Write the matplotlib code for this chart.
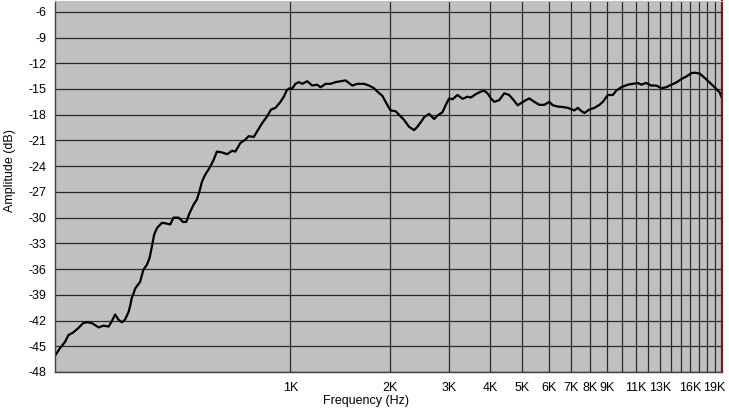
import numpy as np
import matplotlib
matplotlib.use('Agg')
import matplotlib.pyplot as plt

plt.rcParams['font.family'] = ['Liberation Sans', 'DejaVu Sans']

# response curve: frequency (Hz) and amplitude (dB)
freq = [195, 202, 209, 214, 221, 229, 237, 244, 252, 264, 273, 283, 289, 296,
        303, 310, 317, 325, 329, 332, 336, 340, 344, 352, 360, 369, 376, 382,
        388, 396, 410, 424, 434, 444, 460, 474, 485, 496, 510, 522, 531, 541,
        553, 570, 586, 600, 622, 644, 667, 682, 706, 731, 748, 775, 793, 821,
        850, 874, 901, 933, 955, 973, 988, 1012, 1035, 1059, 1085, 1123, 1163,
        1204, 1232, 1276, 1321, 1368, 1416, 1466, 1500, 1536, 1590, 1666, 1724,
        1785, 1828, 1892, 1936, 1968, 2005, 2076, 2124, 2199, 2277, 2358, 2414,
        2500, 2527, 2617, 2710, 2775, 2873, 2940, 3008, 3080, 3189, 3302, 3419,
        3498, 3622, 3750, 3837, 3929, 4020, 4114, 4259, 4410, 4566, 4708, 4841,
        4954, 5129, 5248, 5433, 5626, 5825, 6031, 6175, 6393, 6619, 6855, 7014,
        7177, 7349, 7518, 7693, 7965, 8248, 8540, 8745, 9055, 9373, 9592, 9931,
        10405, 10772, 11152, 11411, 11816, 12236, 12669, 13119, 13584, 14061,
        14557, 15078, 15612, 16164, 16539, 17126, 17731, 18356, 19008, 19679,
        20000]
amp = [-46.1, -45.2, -44.5, -43.7, -43.4, -42.9, -42.3, -42.2, -42.3, -42.8,
       -42.6, -42.7, -42.1, -41.3, -41.9, -42.2, -41.9, -41.0, -40.2, -39.4,
       -38.9, -38.3, -38.0, -37.5, -36.1, -35.5, -34.7, -33.4, -32.0, -31.2,
       -30.6, -30.7, -30.8, -30.0, -30.0, -30.5, -30.5, -29.5, -28.5, -27.9,
       -27.0, -25.8, -25.0, -24.2, -23.3, -22.3, -22.4, -22.6, -22.2, -22.3,
       -21.3, -20.9, -20.5, -20.6, -19.95, -19.0, -18.2, -17.4, -17.2, -16.5,
       -15.9, -15.2, -14.95, -14.95, -14.4, -14.2, -14.4, -14.1, -14.6, -14.5,
       -14.8, -14.4, -14.4, -14.2, -14.1, -14.0, -14.3, -14.6, -14.4, -14.4,
       -14.6, -14.9, -15.3, -15.8, -16.5, -17.0, -17.5, -17.6, -18.0, -18.6,
       -19.4, -19.8, -19.4, -18.6, -18.3, -17.9, -18.5, -18.1, -17.7, -16.85,
       -16.1, -16.2, -15.7, -16.15, -15.9, -16.0, -15.6, -15.3, -15.2, -15.5,
       -16.1, -16.5, -16.3, -15.5, -15.7, -16.3, -16.9, -16.65, -16.3, -16.1,
       -16.5, -16.85, -16.85, -16.5, -16.9, -17.05, -17.1, -17.2, -17.35,
       -17.5, -17.2, -17.55, -17.8, -17.4, -17.2, -16.85, -16.5, -15.7, -15.7,
       -15.2, -14.8, -14.5, -14.4, -14.3, -14.5, -14.3, -14.6, -14.6, -14.9,
       -14.8, -14.5, -14.25, -13.85, -13.55, -13.15, -13.1, -13.2, -13.7,
       -14.25, -14.8, -15.4, -16.1]

y_ticks = list(range(-6, -49, -3))
x_grid = [k * 1000 for k in range(1, 20)]
x_labels = ['1K', '2K', '3K', '4K', '5K', '6K', '7K', '8K', '9K', '', '11K',
            '', '13K', '', '', '16K', '', '', '19K']

W, H = 729, 411
fig = plt.figure(figsize=(W / 100, H / 100), dpi=100)
ax = fig.add_axes([55 / W, 1 - 372 / H, (722 - 55) / W, (372 - 1.5) / H])
ax.set_facecolor('#c0c0c0')

ax.set_xscale('log')
ax.set_xlim(195, 20000)
ax.set_ylim(-48, -4.8)

ax.set_yticks(y_ticks)
ax.set_yticklabels([str(v) for v in y_ticks])
ax.set_xticks(x_grid)
ax.set_xticklabels(x_labels)
ax.xaxis.set_minor_locator(matplotlib.ticker.NullLocator())
ax.tick_params(axis='both', length=0, labelsize=9, colors='black')
ax.tick_params(axis='y', pad=6)
ax.tick_params(axis='x', pad=7)

ax.grid(True, which='major', color='#2a2a2a', linewidth=0.9)
ax.set_axisbelow(True)

ax.plot(freq, amp, color='black', linewidth=1.6)

for s in ['left', 'bottom']:
    ax.spines[s].set_color('#404040')
    ax.spines[s].set_linewidth(1.0)
ax.spines['top'].set_color('#c0c0c0')
ax.spines['right'].set_color('#7a1a1a')
ax.spines['right'].set_linewidth(1.6)

fig.text(366 / W, 1 - 401 / H, 'Frequency (Hz)', ha='center', va='center',
         fontsize=9)
fig.text(10 / W, 1 - 171 / H, 'Amplitude (dB)', ha='center', va='center',
         rotation=90, fontsize=9)

fig.savefig('out.png', dpi=100)
